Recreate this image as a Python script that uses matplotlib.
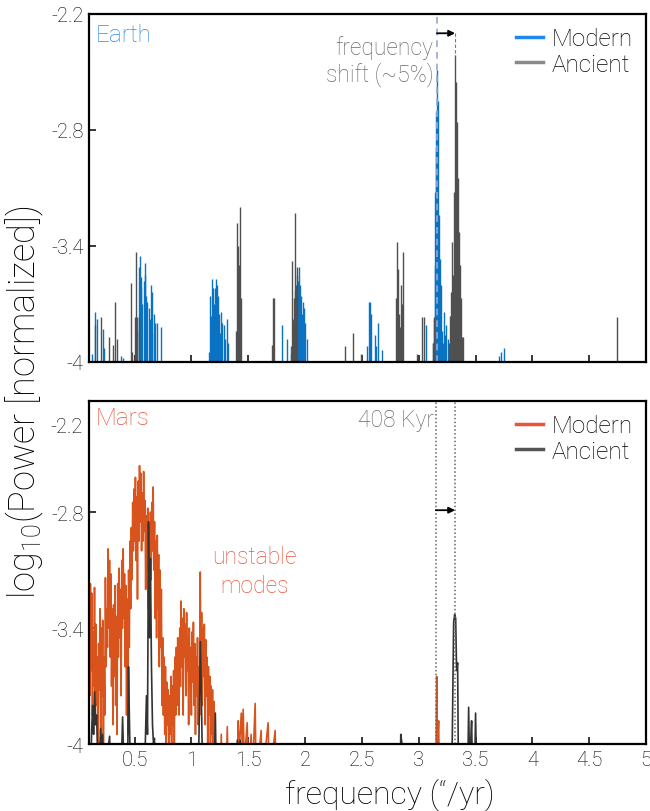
import numpy as np
import matplotlib.pyplot as plt
from matplotlib.lines import Line2D

plt.rcParams['font.family'] = ['Roboto', 'DejaVu Sans']
plt.rcParams['font.weight'] = 'light'
plt.rcParams['mathtext.default'] = 'regular'
plt.rcParams['text.color'] = '#000000'

# Earth, modern spectrum: peak frequency ("/yr) and log10 power
earth_mod_f = [0.123, 0.149, 0.167, 0.219, 0.228, 0.377, 0.395,
               0.526, 0.535, 0.544, 0.553, 0.561, 0.570, 0.579, 0.588, 0.596, 0.605, 0.614, 0.623, 0.632,
               0.640, 0.649, 0.658, 0.667, 0.675, 0.684, 0.702, 0.737,
               1.158, 1.167, 1.175, 1.184, 1.193, 1.202, 1.211, 1.219, 1.228, 1.237, 1.246, 1.254, 1.263,
               1.272, 1.289, 1.298, 1.316, 1.325,
               1.798, 1.842, 1.877, 1.895, 1.912, 1.921, 1.930, 1.939, 1.947, 1.956, 1.965, 1.974, 1.982,
               1.991, 2.0, 2.018,
               2.544, 2.561, 2.570, 2.579, 2.614, 2.623, 2.640, 2.675,
               3.061, 3.123, 3.132, 3.140, 3.145, 3.149, 3.155, 3.162, 3.167, 3.175, 3.184, 3.193, 3.202,
               3.211, 3.219, 3.228, 3.237, 3.254,
               3.702, 3.728, 3.746]
earth_mod_p = [-3.96, -3.74, -3.78, -3.83, -3.93, -3.97, -3.98,
               -3.77, -3.51, -3.45, -3.62, -3.56, -3.70, -3.58, -3.49, -3.55, -3.66, -3.69, -3.72, -3.80,
               -3.78, -3.60, -3.64, -3.75, -3.85, -3.80, -3.80, -3.82,
               -3.95, -3.66, -3.76, -3.57, -3.62, -3.70, -3.62, -3.57, -3.60, -3.66, -3.75, -3.85, -3.74,
               -3.80, -3.81, -3.88, -3.78, -3.90,
               -3.81, -3.88, -3.92, -3.78, -3.63, -3.67, -3.55, -3.58, -3.51, -3.60, -3.66, -3.75, -3.69,
               -3.72, -3.80, -3.88,
               -3.92, -3.69, -3.69, -3.75, -3.86, -3.92, -3.80, -3.94,
               -3.81, -3.90, -3.78, -3.50, -3.12, -2.89, -2.70, -2.49, -2.65, -3.24, -3.47, -3.60, -3.84,
               -3.90, -3.74, -3.86, -3.81, -3.88,
               -3.97, -3.95, -3.93]

# Earth, ancient spectrum
earth_anc_f = [0.149, 0.202, 0.272, 0.307, 0.325, 0.342,
               0.465, 0.482, 0.5, 0.509, 0.526, 0.535,
               1.395, 1.404, 1.412, 1.421, 1.430, 1.439,
               1.711, 1.719, 1.728,
               1.877, 1.886, 1.895, 1.904, 1.912, 1.921, 1.930,
               2.351, 2.421, 2.491,
               2.798, 2.807, 2.816, 2.825, 2.833, 2.842, 2.851, 2.860,
               2.982, 3.026, 3.044, 3.123, 3.132,
               3.263, 3.272, 3.281, 3.289, 3.298, 3.307, 3.316, 3.325, 3.333, 3.342, 3.351, 3.360, 3.368,
               3.377, 3.386,
               4.746]
earth_anc_p = [-3.81, -3.77, -3.87, -3.91, -3.69, -3.88,
               -3.59, -3.95, -3.77, -3.43, -3.84, -3.77,
               -3.84, -3.28, -3.40, -3.50, -3.20, -3.67,
               -3.91, -3.67, -3.67,
               -3.96, -3.48, -3.80, -3.67, -3.23, -3.60, -3.51,
               -3.92, -3.85, -3.96,
               -3.67, -3.38, -3.52, -3.75, -3.82, -3.60, -3.70, -3.43,
               -3.96, -3.77, -3.77, -3.90, -3.77,
               -3.90, -3.76, -3.64, -3.38, -3.55, -3.12, -2.41, -2.55, -2.76, -3.05, -3.33, -3.50, -3.67,
               -3.87, -3.87,
               -3.77]

# Mars, modern spectrum (continuous trace)
mars_mod_f = [0.100, 0.106, 0.112, 0.118, 0.124, 0.130, 0.136, 0.142, 0.148, 0.154, 0.160, 0.166, 0.172, 0.178,
              0.184, 0.190, 0.196, 0.202, 0.208, 0.214, 0.220, 0.226, 0.232, 0.238, 0.244, 0.250, 0.256, 0.262,
              0.268, 0.274, 0.280, 0.286, 0.292, 0.298, 0.304, 0.310, 0.316, 0.322, 0.328, 0.334, 0.340, 0.346,
              0.352, 0.358, 0.364, 0.370, 0.376, 0.382, 0.388, 0.394, 0.400, 0.406, 0.412, 0.418, 0.424, 0.430,
              0.436, 0.442, 0.448, 0.454, 0.460, 0.466, 0.472, 0.478, 0.484, 0.490, 0.496, 0.502, 0.508, 0.514,
              0.520, 0.526, 0.532, 0.538, 0.544, 0.550, 0.556, 0.562, 0.568, 0.574, 0.580, 0.586, 0.592, 0.598,
              0.604, 0.610, 0.616, 0.622, 0.628, 0.634, 0.640, 0.646, 0.652, 0.658, 0.664, 0.670, 0.676, 0.682,
              0.688, 0.694, 0.700, 0.706, 0.712, 0.718, 0.724, 0.730, 0.736, 0.742, 0.748, 0.754, 0.760, 0.766,
              0.772, 0.778, 0.784, 0.790, 0.796, 0.802, 0.808, 0.814, 0.820, 0.826, 0.832, 0.838, 0.844, 0.850,
              0.856, 0.862, 0.868, 0.874, 0.880, 0.886, 0.892, 0.898, 0.904, 0.910, 0.916, 0.922, 0.928, 0.934,
              0.940, 0.946, 0.952, 0.958, 0.964, 0.970, 0.976, 0.982, 0.988, 0.994, 1.000, 1.006, 1.012, 1.018,
              1.024, 1.030, 1.036, 1.042, 1.048, 1.054, 1.060, 1.066, 1.072, 1.078, 1.084, 1.090, 1.096, 1.102,
              1.108, 1.114, 1.120, 1.126, 1.132, 1.138, 1.144, 1.150, 1.156, 1.162, 1.168, 1.174, 1.180, 1.186,
              1.192, 1.198, 1.204, 1.230, 1.255, 1.263, 1.272, 1.305, 1.316, 1.325, 1.405, 1.412, 1.420, 1.439,
              1.447, 1.456, 1.465, 1.491, 1.500, 1.526, 1.535, 1.561, 1.570, 1.614, 1.622, 1.675, 1.684, 1.737,
              1.745, 3.150, 3.158, 3.165, 3.175, 3.182]
mars_mod_p = [-3.30, -3.75, -3.17, -3.62, -3.22, -3.85, -3.42, -3.70, -3.19, -3.90, -3.38, -3.80, -3.55, -4.05,
              -3.48, -3.72, -3.30, -3.95, -3.40, -3.75, -3.36, -4.10, -3.55, -3.85, -3.14, -3.60, -3.30, -3.50,
              -2.99, -3.40, -3.05, -3.55, -3.12, -3.70, -3.30, -3.90, -3.28, -3.65, -3.18, -3.80, -3.34, -3.95,
              -3.17, -3.55, -3.09, -3.45, -3.20, -3.75, -3.05, -3.40, -2.99, -3.35, -3.12, -3.60, -3.18, -3.85,
              -3.25, -3.95, -3.10, -3.50, -2.95, -3.30, -2.88, -3.15, -2.75, -3.00, -2.68, -2.95, -2.62, -3.05,
              -2.72, -3.25, -2.64, -2.95, -2.56, -2.85, -2.60, -3.00, -2.70, -2.95, -2.59, -2.90, -2.74, -3.20,
              -2.82, -3.10, -2.78, -3.30, -2.88, -3.05, -2.80, -3.15, -2.75, -3.00, -2.67, -3.10, -2.85, -3.35,
              -2.95, -3.45, -2.92, -3.30, -3.02, -3.60, -3.10, -3.50, -3.20, -3.80, -3.45, -3.85, -3.55, -3.95,
              -3.60, -4.05, -3.68, -3.90, -3.72, -4.10, -3.75, -3.95, -3.65, -4.05, -3.70, -3.90, -3.62, -4.00,
              -3.55, -3.85, -3.50, -3.80, -3.45, -3.70, -3.85, -3.40, -3.70, -3.26, -3.60, -3.35, -3.85, -3.30,
              -3.55, -3.38, -3.75, -3.32, -3.62, -3.45, -3.90, -3.40, -3.70, -3.50, -3.85, -3.42, -3.68, -3.37,
              -3.80, -3.48, -3.95, -3.55, -3.75, -3.45, -3.90, -3.60, -3.85, -3.11, -3.70, -3.32, -3.80, -3.40,
              -3.65, -3.38, -3.90, -3.46, -3.75, -3.55, -4.00, -3.60, -3.85, -3.65, -4.05, -3.70, -3.95, -3.72,
              -4.10, -3.78, -4.15, -4.20, -4.20, -3.95, -4.20, -4.20, -3.91, -4.20, -4.20, -3.88, -4.05, -3.84,
              -4.00, -3.82, -4.10, -3.89, -4.20, -3.95, -4.20, -3.79, -4.20, -3.93, -4.20, -3.89, -4.20, -3.93,
              -4.20, -4.20, -3.65, -4.00, -3.88, -4.20]

# Mars, ancient spectrum (continuous trace)
mars_anc_f = [0.110, 0.125, 0.132, 0.140, 0.149, 0.158, 0.167, 0.180, 0.202, 0.210, 0.219, 0.230, 0.281, 0.290,
              0.380, 0.395, 0.410, 0.440, 0.447, 0.456, 0.465, 0.585, 0.596, 0.605, 0.614, 0.623, 0.632, 0.640,
              0.649, 0.658, 0.667, 0.675, 0.690, 1.060, 1.070, 1.079, 1.088, 1.100, 1.200, 1.211, 1.220, 1.395,
              1.404, 1.415, 1.430, 1.440, 2.835, 2.842, 2.851, 2.860, 3.290, 3.298, 3.307, 3.316, 3.325, 3.333,
              3.342, 3.350, 3.430, 3.439, 3.447, 3.456, 3.465, 3.475, 3.490, 3.500, 3.510]
mars_anc_p = [-4.2, -3.90, -3.80, -3.95, -3.73, -3.90, -3.85, -4.2, -3.92, -4.1, -3.95, -4.2, -3.96, -4.2,
              -4.2, -3.86, -4.2, -4.1, -3.60, -3.90, -4.2, -4.2, -3.97, -3.75, -3.95, -2.85, -3.45, -3.04,
              -3.60, -3.90, -4.0, -3.97, -4.2, -4.2, -3.85, -3.47, -3.75, -4.2, -4.2, -3.84, -4.2, -4.2,
              -3.98, -4.2, -3.98, -4.2, -4.2, -3.95, -3.99, -4.2, -4.2, -3.83, -3.37, -3.33, -3.35, -3.62,
              -3.58, -4.2, -4.2, -3.81, -4.1, -4.0, -3.88, -4.2, -4.2, -3.84, -4.2]

f_modern = 3.16   # main modern g-mode frequency
f_ancient = 3.32  # main ancient g-mode frequency

yticks = [-4, -3.4, -2.8, -2.2]
xticks = [0.5, 1, 1.5, 2, 2.5, 3, 3.5, 4, 4.5, 5]

fig = plt.figure(figsize=(6.5, 8.12), dpi=100)
ax1 = fig.add_axes([0.137, 0.553, 0.857, 0.4286])
ax2 = fig.add_axes([0.137, 0.0825, 0.857, 0.4224])

blue = '#0a72c2'
orange = '#d9531c'
note_grey = '#6a6a6a'

# --- Earth
ax1.vlines(earth_mod_f, -4.2, earth_mod_p, color=blue, lw=1.0)
ax1.vlines(earth_anc_f, -4.2, earth_anc_p, color='#505050', lw=1.0)
ax1.axvline(f_modern, color='#9aa6d2', lw=1.2, ls=(0, (4, 3)))
ax1.plot([f_ancient, f_ancient], [-2.3, -2.42], color='#777777', lw=0.8, ls=(0, (3, 2)))
ax1.annotate('', xy=(f_ancient, -2.3), xytext=(f_modern, -2.3),
             arrowprops=dict(arrowstyle='-|>', color='black', lw=1.3, mutation_scale=9,
                             shrinkA=0, shrinkB=0))
ax1.text(f_modern - 0.03, -2.37, 'frequency', ha='right', va='center', fontsize=16.5, color=note_grey)
ax1.text(f_modern - 0.03, -2.51, 'shift (~5%)', ha='right', va='center', fontsize=16.5, color=note_grey)
ax1.text(0.012, 0.975, 'Earth', transform=ax1.transAxes, ha='left', va='top', fontsize=17.5, color='#2a8cf0')
ax1.set_ylim(-4, -2.2)
h1 = [Line2D([], [], color='#1f88ee', lw=2.5), Line2D([], [], color='#8a8a8a', lw=2.5)]
ax1.legend(h1, ['Modern', 'Ancient'], loc='upper right', frameon=False, fontsize=17.5,
           handlelength=1.1, handletextpad=0.35, labelspacing=0.1, borderaxespad=0.15)

# --- Mars
ax2.plot(mars_mod_f, mars_mod_p, color=orange, lw=1.2)
ax2.plot(mars_anc_f, mars_anc_p, color='#333333', lw=1.2)
ax2.axvline(f_modern - 0.01, color='#666666', lw=1.1, ls=(0, (1, 1.5)))
ax2.axvline(f_ancient, color='#666666', lw=1.1, ls=(0, (1, 1.5)))
ax2.annotate('', xy=(f_ancient, -2.79), xytext=(f_modern - 0.01, -2.79),
             arrowprops=dict(arrowstyle='-|>', color='black', lw=1.3, mutation_scale=9,
                             shrinkA=0, shrinkB=0))
ax2.text(f_modern - 0.03, -2.32, '408 Kyr', ha='right', va='center', fontsize=16.5, color=note_grey)
ax2.text(1.553, -3.03, 'unstable', ha='center', va='center', fontsize=16.5, color='#e8573f')
ax2.text(1.553, -3.18, 'modes', ha='center', va='center', fontsize=16.5, color='#e8573f')
ax2.text(0.012, 0.985, 'Mars', transform=ax2.transAxes, ha='left', va='top', fontsize=17.5, color='#e8553a')
ax2.set_ylim(-4, -2.225)
h2 = [Line2D([], [], color='#e8553a', lw=2.5), Line2D([], [], color='#555555', lw=2.5)]
ax2.legend(h2, ['Modern', 'Ancient'], loc='upper right', frameon=False, fontsize=17.5,
           handlelength=1.1, handletextpad=0.35, labelspacing=0.1, borderaxespad=0.15)

for ax in (ax1, ax2):
    ax.set_xlim(0.1, 5)
    ax.set_xticks(xticks)
    for s in ax.spines.values():
        s.set_linewidth(1.6)
    ax.tick_params(direction='in', length=5, width=1.1, labelsize=14.5, pad=4)

ax1.set_yticks(yticks)
ax1.set_yticklabels(['-4', '-3.4', '-2.8', '-2.2'])
ax1.set_xticklabels([])
ax2.set_yticks(yticks[:3])
ax2.set_yticklabels(['-4', '-3.4', '-2.8'])
ax2.text(-0.012, 0.925, '-2.2', transform=ax2.transAxes, ha='right', va='center', fontsize=14.5)
ax2.set_xticklabels(['0.5', '1', '1.5', '2', '2.5', '3', '3.5', '4', '4.5', '5'])

fig.text(0.038, 0.505, 'log$_{10}$(Power [normalized])', rotation=90, ha='center', va='center', fontsize=26)
fig.text(0.6, 0.021, 'frequency (\u201c/yr)', ha='center', va='center', fontsize=23)

fig.savefig('out.png', dpi=100)
